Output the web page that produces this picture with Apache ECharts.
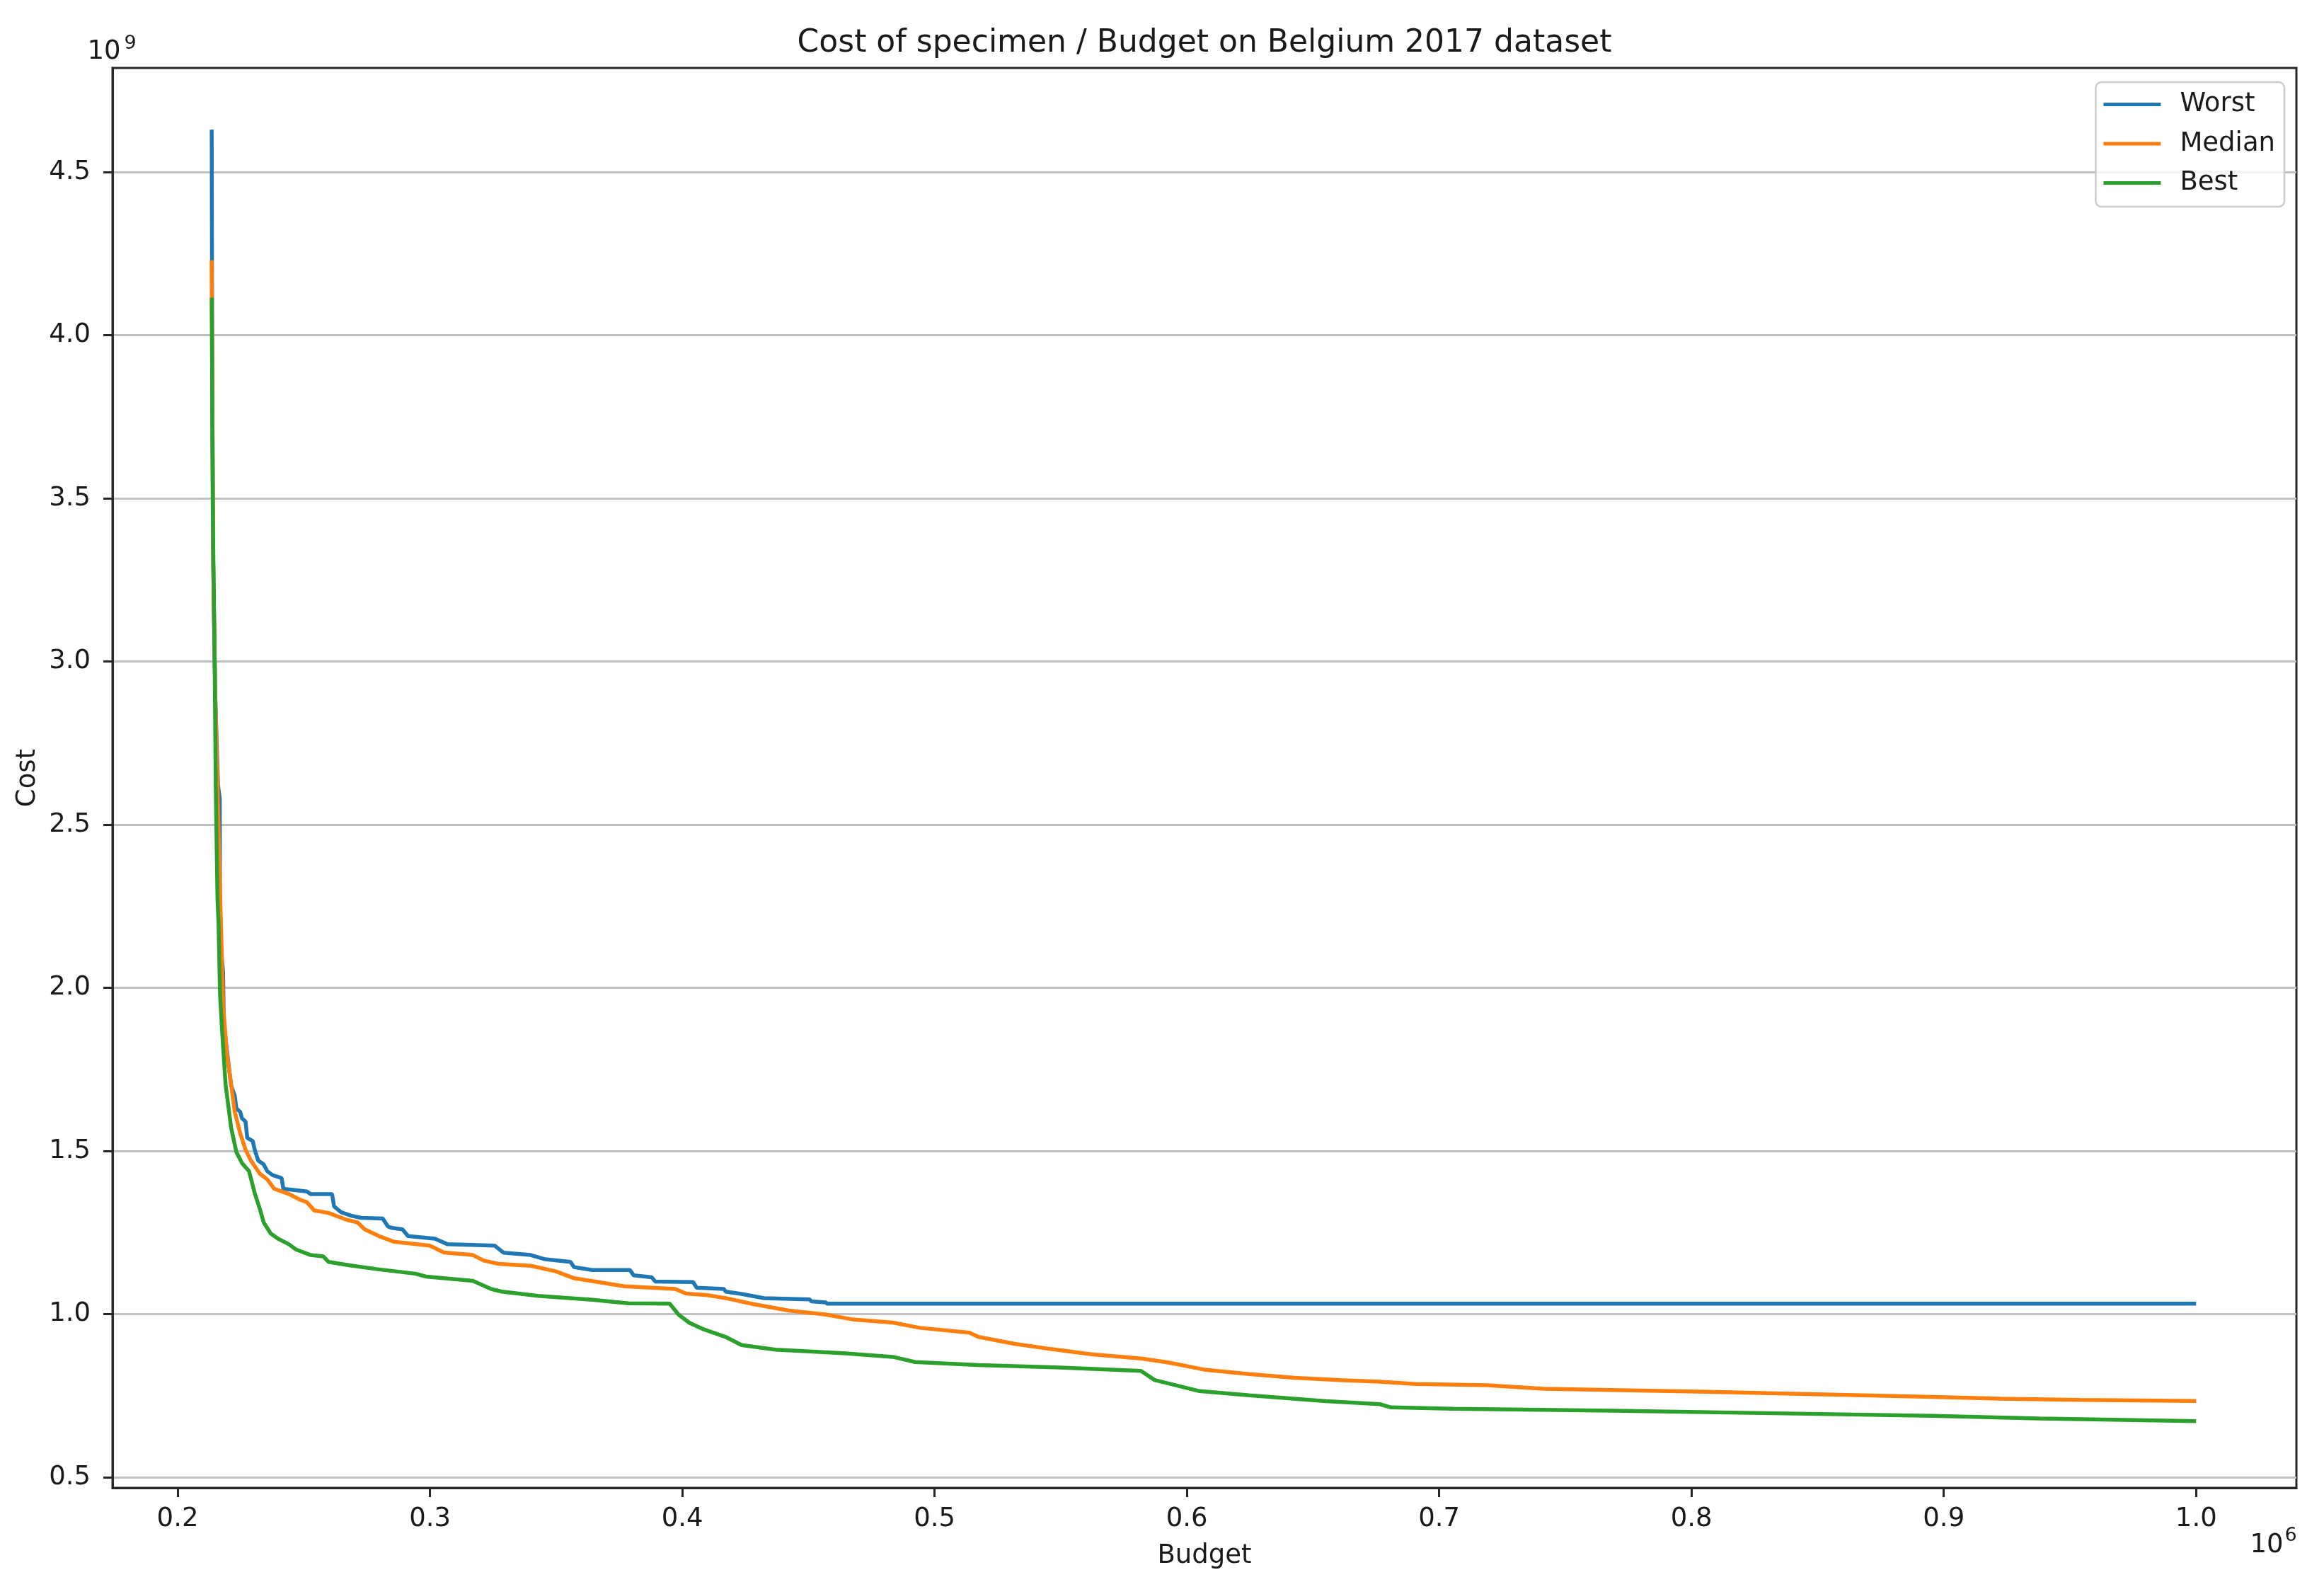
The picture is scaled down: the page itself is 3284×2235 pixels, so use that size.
<!DOCTYPE html>
<html><head><meta charset="utf-8">
<script src="https://cdn.jsdelivr.net/npm/echarts@6/dist/echarts.min.js"></script>
<style>html,body{margin:0;padding:0;background:#fff}#c{width:3284px;height:2235px}</style>
</head><body><div id="c"></div>
<script>
const chartTitle = 'Cost of specimen / Budget on Belgium 2017 dataset';
const seriesNames = ['Worst', 'Median', 'Best'];
const seriesColors = ['#1f77b4', '#ff7f0e', '#2ca02c'];
const xTicks = [0.2, 0.3, 0.4, 0.5, 0.6, 0.7, 0.8, 0.9, 1.0];
const yTicks = [0.5, 1.0, 1.5, 2.0, 2.5, 3.0, 3.5, 4.0, 4.5];
const xExponent = '6';
const yExponent = '9';
// budget in units of 10^6, cost in units of 10^9
const worst = [
[0.2135,4.63],[0.2137,3.90],[0.2141,3.30],[0.2149,2.90],[0.2160,2.62],[0.2167,2.58],[0.2168,2.15],[0.2180,2.05],[0.2183,1.89],[0.2198,1.79],[0.2212,1.70],[0.2226,1.67],[0.2233,1.63],[0.2248,1.62],[0.2255,1.60],[0.2269,1.59],[0.2276,1.54],[0.2298,1.53],[0.2305,1.505],[0.2319,1.471],[0.2341,1.459],[0.2355,1.438],[0.2376,1.426],[0.2412,1.417],[0.2419,1.384],[0.2512,1.376],[0.2527,1.368],[0.2612,1.368],[0.2620,1.330],[0.2648,1.312],[0.2691,1.301],[0.2727,1.295],[0.2813,1.293],[0.2834,1.268],[0.2850,1.264],[0.2891,1.260],[0.2913,1.239],[0.3020,1.231],[0.3070,1.214],[0.3256,1.210],[0.3292,1.188],[0.3399,1.181],[0.3457,1.168],[0.3557,1.160],[0.3571,1.144],[0.3643,1.135],[0.3793,1.135],[0.3807,1.119],[0.3879,1.113],[0.3893,1.100],[0.4043,1.098],[0.4057,1.081],[0.4165,1.077],[0.4172,1.069],[0.4234,1.062],[0.4324,1.049],[0.4505,1.045],[0.4512,1.039],[0.4568,1.036],[0.4574,1.032],[0.4816,1.032],[1.0000,1.032]
];
const median = [
[0.2135,4.23],[0.2137,3.90],[0.2141,3.30],[0.2149,2.90],[0.2160,2.55],[0.2168,2.30],[0.2175,2.10],[0.2180,1.95],[0.2195,1.80],[0.2212,1.704],[0.2226,1.621],[0.2248,1.554],[0.2269,1.504],[0.2290,1.471],[0.2326,1.430],[0.2355,1.413],[0.2383,1.384],[0.2412,1.376],[0.2441,1.368],[0.2484,1.351],[0.2512,1.343],[0.2541,1.318],[0.2598,1.310],[0.2670,1.289],[0.2713,1.281],[0.2741,1.260],[0.2798,1.239],[0.2856,1.222],[0.2999,1.210],[0.3056,1.189],[0.3170,1.181],[0.3213,1.164],[0.3271,1.154],[0.3399,1.148],[0.3499,1.131],[0.3571,1.110],[0.3771,1.085],[0.3972,1.077],[0.4015,1.063],[0.4100,1.058],[0.4172,1.049],[0.4279,1.031],[0.4422,1.011],[0.4566,0.999],[0.4673,0.984],[0.4834,0.974],[0.4941,0.958],[0.5138,0.943],[0.5174,0.930],[0.5317,0.909],[0.5460,0.893],[0.5621,0.877],[0.5818,0.864],[0.5925,0.852],[0.6068,0.830],[0.6247,0.816],[0.6426,0.805],[0.6605,0.798],[0.6764,0.793],[0.6906,0.786],[0.7189,0.782],[0.7413,0.771],[0.8061,0.762],[0.8463,0.755],[0.8955,0.746],[0.9223,0.741],[0.9536,0.737],[1.0000,0.734]
];
const best = [
[0.2135,4.115],[0.2137,3.85],[0.2139,3.49],[0.2147,2.97],[0.2151,2.62],[0.2158,2.27],[0.2162,2.20],[0.2168,1.98],[0.2176,1.870],[0.2190,1.704],[0.2212,1.571],[0.2233,1.496],[0.2255,1.463],[0.2283,1.438],[0.2305,1.372],[0.2326,1.322],[0.2341,1.281],[0.2369,1.247],[0.2398,1.231],[0.2441,1.214],[0.2469,1.198],[0.2527,1.181],[0.2577,1.177],[0.2598,1.160],[0.2684,1.149],[0.2798,1.137],[0.2942,1.124],[0.2984,1.115],[0.3170,1.102],[0.3242,1.077],[0.3285,1.069],[0.3428,1.056],[0.3643,1.044],[0.3786,1.033],[0.3950,1.032],[0.3986,0.998],[0.4029,0.973],[0.4086,0.953],[0.4172,0.930],[0.4235,0.905],[0.4369,0.891],[0.4637,0.880],[0.4834,0.869],[0.4923,0.853],[0.5174,0.844],[0.5478,0.837],[0.5818,0.826],[0.5872,0.798],[0.6050,0.764],[0.6247,0.751],[0.6551,0.733],[0.6764,0.724],[0.6809,0.714],[0.7055,0.710],[0.7692,0.704],[0.8419,0.695],[0.8955,0.688],[0.9380,0.680],[1.0000,0.672]
];
const seriesData = [worst, median, best];

const FONT = '"DejaVu Sans", Verdana, sans-serif';
const TXT = '#1a1a1a';
const SPINE = '#262626';

const chart = echarts.init(document.getElementById('c'), null, {renderer: 'canvas'});
chart.setOption({
  animation: false,
  backgroundColor: '#ffffff',
  title: {
    text: chartTitle, left: 1702, top: 40, textAlign: 'center', padding: 0,
    textStyle: {fontSize: 44, fontWeight: 'normal', fontFamily: FONT, color: TXT}
  },
  grid: {
    left: 159, right: 39, top: 96, bottom: 133,
    containLabel: false, outerBoundsMode: 'none',
    show: true, borderColor: SPINE, borderWidth: 3, backgroundColor: 'transparent'
  },
  legend: {
    show: true, orient: 'vertical', right: 56, top: 116,
    data: seriesNames, icon: 'rect', itemWidth: 81, itemHeight: 5, itemGap: 18.5,
    padding: [13, 13, 15, 11],
    backgroundColor: 'rgba(255,255,255,0.8)', borderColor: '#cccccc', borderWidth: 2.5, borderRadius: 8,
    selectedMode: false,
    textStyle: {fontSize: 37, fontFamily: FONT, color: TXT, padding: [0, 0, 0, 22]}
  },
  xAxis: {
    type: 'value', min: 0.17419, max: 1.03975,
    name: 'Budget', nameLocation: 'middle', nameGap: 78,
    nameTextStyle: {fontSize: 37, fontFamily: FONT, color: TXT},
    axisLine: {show: true, lineStyle: {color: SPINE, width: 3}},
    axisTick: {show: true, length: 13, lineStyle: {color: SPINE, width: 3}, customValues: xTicks},
    axisLabel: {customValues: xTicks, formatter: v => v.toFixed(1), margin: 26,
      fontSize: 37, fontFamily: FONT, color: TXT},
    splitLine: {show: false}
  },
  yAxis: {
    type: 'value', min: 0.4675, max: 4.819,
    name: 'Cost', nameLocation: 'middle', nameGap: 101,
    nameTextStyle: {fontSize: 37, fontFamily: FONT, color: TXT},
    axisLine: {show: true, lineStyle: {color: SPINE, width: 3}},
    axisTick: {show: true, length: 13, lineStyle: {color: SPINE, width: 3}, customValues: yTicks},
    axisLabel: {customValues: yTicks, formatter: v => v.toFixed(1), margin: 31,
      fontSize: 37, fontFamily: FONT, color: TXT},
    splitLine: {show: true, lineStyle: {color: '#c0c0c0', width: 3}}
  },
  graphic: [
    {type: 'text', x: 147, y: 73.5, style: {text: '10', font: '37px ' + FONT, fill: TXT, align: 'center', verticalAlign: 'middle'}},
    {type: 'text', x: 184, y: 62, style: {text: yExponent, font: '27px ' + FONT, fill: TXT, align: 'center', verticalAlign: 'middle'}},
    {type: 'text', x: 3203, y: 2183, style: {text: '10', font: '37px ' + FONT, fill: TXT, align: 'center', verticalAlign: 'middle'}},
    {type: 'text', x: 3237, y: 2170, style: {text: xExponent, font: '27px ' + FONT, fill: TXT, align: 'center', verticalAlign: 'middle'}}
  ],
  series: seriesNames.map((n, i) => ({
    type: 'line', name: n, data: seriesData[i],
    showSymbol: false, symbol: 'none', clip: true,
    lineStyle: {width: 5.5, color: seriesColors[i]},
    itemStyle: {color: seriesColors[i]},
    emphasis: {disabled: true}
  }))
});
</script>
</body></html>
